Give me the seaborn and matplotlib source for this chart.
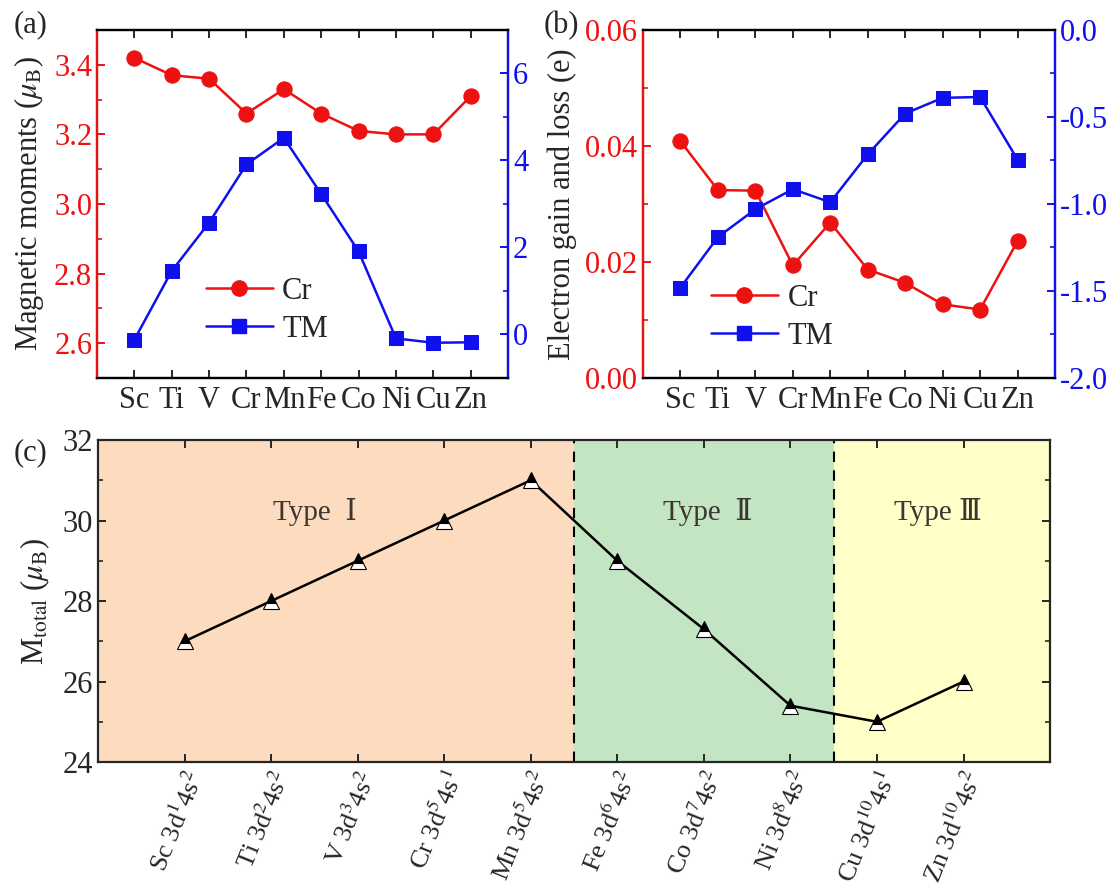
import numpy as np
import pandas as pd
import matplotlib
matplotlib.use("Agg")
import matplotlib.pyplot as plt
import seaborn as sns
from matplotlib.lines import Line2D
from matplotlib.ticker import MultipleLocator

# data
elements = ["Sc", "Ti", "V", "Cr", "Mn", "Fe", "Co", "Ni", "Cu", "Zn"]
cr_moment = [3.42, 3.37, 3.36, 3.26, 3.33, 3.26, 3.21, 3.20, 3.20, 3.31]
tm_moment = [-0.12, 1.46, 2.57, 3.91, 4.52, 3.23, 1.91, -0.09, -0.19, -0.18]
cr_charge = [0.0408, 0.0324, 0.0323, 0.0194, 0.0268, 0.0187, 0.0164, 0.0127, 0.0118, 0.0236]
tm_charge = [-1.48, -1.19, -1.03, -0.915, -0.99, -0.715, -0.48, -0.39, -0.385, -0.745]
m_total = [27.0, 28.0, 29.0, 30.0, 31.0, 29.0, 27.3, 25.4, 25.0, 26.0]
config_labels = [
    r"Sc 3d$^{\mathit{1}}$4s$^{\mathit{2}}$",
    r"Ti 3d$^{\mathit{2}}$4s$^{\mathit{2}}$",
    r"V 3d$^{\mathit{3}}$4s$^{\mathit{2}}$",
    r"Cr 3d$^{\mathit{5}}$4s$^{\mathit{1}}$",
    r"Mn 3d$^{\mathit{5}}$4s$^{\mathit{2}}$",
    r"Fe 3d$^{\mathit{6}}$4s$^{\mathit{2}}$",
    r"Co 3d$^{\mathit{7}}$4s$^{\mathit{2}}$",
    r"Ni 3d$^{\mathit{8}}$4s$^{\mathit{2}}$",
    r"Cu 3d$^{\mathit{10}}$4s$^{\mathit{1}}$",
    r"Zn 3d$^{\mathit{10}}$4s$^{\mathit{2}}$",
]
type_names = ["Type  Ⅰ", "Type  Ⅱ", "Type Ⅲ"]
type_bounds = [-1, 4.5, 7.5, 10]
type_colors = ["#fcdbbf", "#c3e5c3", "#ffffc8"]

sns.set_style("ticks")
plt.rcParams["font.family"] = ["Liberation Serif", "DejaVu Serif", "Noto Sans CJK SC"]
plt.rcParams["mathtext.fontset"] = "stix"
plt.rcParams["axes.unicode_minus"] = False
plt.rcParams["font.size"] = 22
plt.rcParams["axes.linewidth"] = 1.6
plt.rcParams["xtick.direction"] = "in"
plt.rcParams["ytick.direction"] = "in"
plt.rcParams["xtick.major.size"] = 6
plt.rcParams["ytick.major.size"] = 6
plt.rcParams["ytick.minor.size"] = 3.5
plt.rcParams["xtick.major.width"] = 1.4
plt.rcParams["ytick.major.width"] = 1.4
plt.rcParams["ytick.minor.width"] = 1.2

df = pd.DataFrame({"x": np.arange(len(elements)), "el": elements,
                   "cr_m": cr_moment, "tm_m": tm_moment,
                   "cr_q": cr_charge, "tm_q": tm_charge, "tot": m_total})

RED = "#ee1111"
BLUE = "#1010ee"

fig = plt.figure(figsize=(11.11, 8.90), dpi=100)


def twin_panel(rect, ycol_l, ycol_r, ylim_l, ylim_r, major_l, major_r, fmt_l, fmt_r, ylabel, leg_anchor):
    ax = fig.add_axes(rect)
    ax2 = ax.twinx()
    sns.lineplot(data=df, x="x", y=ycol_l, ax=ax, color=RED, marker="o", markersize=11,
                 markeredgecolor=RED, linewidth=1.8)
    sns.lineplot(data=df, x="x", y=ycol_r, ax=ax2, color=BLUE, marker="s", markersize=9.5,
                 markeredgecolor=BLUE, linewidth=1.8)
    ax.set_xlim(-1, 10)
    ax.set_ylim(*ylim_l)
    ax2.set_ylim(*ylim_r)
    ax.set_xticks(df["x"])
    ax.set_xticklabels(elements)
    ax.tick_params(axis="x", top=True, pad=6)
    ax.yaxis.set_major_locator(MultipleLocator(major_l))
    ax.yaxis.set_minor_locator(MultipleLocator(major_l / 2))
    ax2.yaxis.set_major_locator(MultipleLocator(major_r))
    ax2.yaxis.set_minor_locator(MultipleLocator(major_r / 2))
    ax.yaxis.set_major_formatter(fmt_l)
    ax2.yaxis.set_major_formatter(fmt_r)
    ax.tick_params(axis="y", which="both", colors=RED, labelcolor=RED)
    ax2.tick_params(axis="y", which="both", colors=BLUE, labelcolor=BLUE)
    ax.set_xlabel("")
    ax.set_ylabel(ylabel, labelpad=6)
    ax2.set_ylabel("")
    ax2.spines["left"].set_color(RED)
    ax2.spines["right"].set_color(BLUE)
    ax2.spines["top"].set_color("black")
    ax2.spines["bottom"].set_color("black")
    handles = [Line2D([], [], color=RED, marker="o", markersize=11, linewidth=1.8),
               Line2D([], [], color=BLUE, marker="s", markersize=9.5, linewidth=1.8)]
    ax2.legend(handles, ["Cr", "TM"], loc="upper left", bbox_to_anchor=leg_anchor,
               frameon=False, handlelength=2.2, labelspacing=0.28, handletextpad=0.3,
               borderaxespad=0, fontsize=22)
    return ax


ax_a = twin_panel([0.0873, 0.5753, 0.370, 0.391], "cr_m", "tm_m", (2.5, 3.5), (-1, 7),
                  0.2, 2, "{x:.1f}", "{x:.0f}", r"Magnetic moments ($\mu_{\rm B}$)", (0.235, 0.325))
ax_b = twin_panel([0.5788, 0.5753, 0.3708, 0.391], "cr_q", "tm_q", (0.0, 0.06), (-2.0, 0.0),
                  0.02, 0.5, "{x:.2f}", "{x:.1f}", "Electron gain and loss (e)", (0.135, 0.305))
fig.text(0.012, 0.988, "(a)", fontsize=22, va="top")
fig.text(0.489, 0.988, "(b)", fontsize=22, va="top")

# panel (c)
ax_c = fig.add_axes([0.0882, 0.1438, 0.857, 0.3618])
for lo, hi, c in zip(type_bounds[:-1], type_bounds[1:], type_colors):
    ax_c.axvspan(lo, hi, color=c, zorder=0, linewidth=0)
for b in type_bounds[1:-1]:
    ax_c.axvline(b, color="black", linestyle=(0, (5, 4)), linewidth=1.5, zorder=1)
sns.lineplot(data=df, x="x", y="tot", ax=ax_c, color="black", linewidth=1.8, marker="^",
             markersize=12, fillstyle="top", markerfacecolor="black",
             markerfacecoloralt="white", markeredgecolor="black", markeredgewidth=0.8, zorder=3)
type_x = [1.5, 6.05, 8.7]
for tx, name in zip(type_x, type_names):
    ax_c.text(tx, 30.2, name, ha="center", va="center", fontsize=21, color="#3d3530")
ax_c.set_xlim(-1, 10)
ax_c.set_ylim(24, 32)
ax_c.set_xticks(df["x"])
ax_c.set_xticklabels(config_labels, rotation=68, ha="right", rotation_mode="anchor", fontsize=19)
ax_c.tick_params(axis="x", top=True, pad=4)
ax_c.tick_params(axis="y", which="both", right=True)
ax_c.yaxis.set_major_locator(MultipleLocator(2))
ax_c.yaxis.set_minor_locator(MultipleLocator(1))
ax_c.set_xlabel("")
ax_c.set_ylabel(r"M$_{\rm total}$ ($\mu_{\rm B}$)", labelpad=8)
fig.text(0.012, 0.508, "(c)", fontsize=22, va="top")

fig.savefig("out.png", dpi=100)
